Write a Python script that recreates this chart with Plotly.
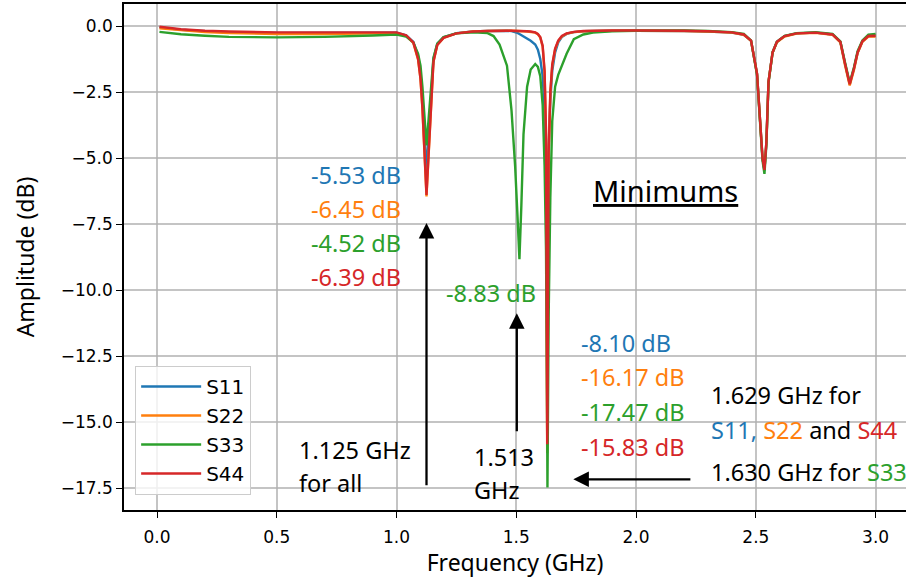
import plotly.graph_objects as go

# ---------------- data ----------------
freq = [0.01, 0.05, 0.1, 0.2, 0.3, 0.5, 0.7, 0.9, 1.0, 1.04,
        1.07, 1.09, 1.10, 1.108, 1.116, 1.125, 1.134, 1.143, 1.154, 1.17,
        1.196, 1.25, 1.32, 1.38, 1.405, 1.43, 1.461, 1.48, 1.495, 1.505,
        1.513, 1.521, 1.53, 1.545, 1.56, 1.579, 1.59, 1.60, 1.61, 1.618,
        1.624, 1.629, 1.630, 1.635, 1.642, 1.65, 1.662, 1.675, 1.69, 1.71,
        1.74, 1.78, 1.82, 1.9, 2.0, 2.1, 2.2, 2.3, 2.4, 2.45,
        2.48, 2.505, 2.518, 2.528, 2.536, 2.544, 2.553, 2.57, 2.588, 2.62,
        2.67, 2.75, 2.82, 2.853, 2.873, 2.892, 2.91, 2.925, 2.945, 2.97,
        3.0]

s11 = [-0.05, -0.09, -0.14, -0.2, -0.23, -0.26, -0.26, -0.25, -0.25, -0.35,
       -0.6, -1.15, -1.8, -2.7, -4.0, -5.53, -4.1, -2.8, -1.25, -0.68,
       -0.43, -0.27, -0.21, -0.19, -0.18, -0.18, -0.18, -0.19, -0.22, -0.26,
       -0.3, -0.34, -0.4, -0.48, -0.56, -0.7, -0.9, -1.25, -1.9, -3.2,
       -5.5, -8.10, -7.9, -4.6, -2.8, -1.7, -1.0, -0.62, -0.42, -0.3,
       -0.23, -0.2, -0.19, -0.18, -0.18, -0.18, -0.19, -0.21, -0.25, -0.33,
       -0.55, -1.8, -3.6, -5.0, -5.48, -4.4, -2.1, -1.0, -0.6, -0.38,
       -0.28, -0.25, -0.32, -0.6, -1.45, -2.2, -1.6, -1.0, -0.58, -0.38,
       -0.38]

s22 = [-0.09, -0.12, -0.17, -0.23, -0.27, -0.3, -0.3, -0.28, -0.27, -0.37,
       -0.64, -1.28, -2.0, -3.15, -4.8, -6.45, -4.85, -3.2, -1.35, -0.72,
       -0.45, -0.28, -0.21, -0.19, -0.18, -0.18, -0.18, -0.18, -0.18, -0.18,
       -0.18, -0.19, -0.2, -0.21, -0.22, -0.25, -0.31, -0.44, -0.78, -1.75,
       -4.1, -16.17, -15.4, -4.9, -2.55, -1.5, -0.88, -0.57, -0.4, -0.29,
       -0.23, -0.2, -0.19, -0.18, -0.18, -0.18, -0.19, -0.21, -0.25, -0.33,
       -0.56, -1.8, -3.6, -5.0, -5.42, -4.4, -2.1, -1.0, -0.62, -0.4,
       -0.29, -0.26, -0.33, -0.62, -1.5, -2.25, -1.65, -1.02, -0.6, -0.4,
       -0.4]

s33 = [-0.22, -0.27, -0.31, -0.37, -0.41, -0.43, -0.41, -0.36, -0.32, -0.4,
       -0.62, -1.05, -1.5, -2.3, -3.4, -4.52, -3.5, -2.4, -1.2, -0.67,
       -0.42, -0.28, -0.24, -0.27, -0.38, -0.7, -1.5, -3.2, -5.3, -7.2,
       -8.83, -6.8, -4.1, -2.3, -1.65, -1.44, -1.55, -1.9, -3.0, -5.3,
       -8.5, -15.5, -17.47, -11.0, -6.5, -3.6, -2.3, -1.85, -1.5, -1.05,
       -0.5, -0.32, -0.25, -0.2, -0.18, -0.17, -0.17, -0.19, -0.23, -0.3,
       -0.55, -1.85, -3.7, -5.1, -5.6, -4.5, -2.15, -1.0, -0.6, -0.37,
       -0.27, -0.23, -0.3, -0.58, -1.4, -2.15, -1.55, -0.95, -0.55, -0.33,
       -0.3]

s44 = [-0.03, -0.07, -0.12, -0.18, -0.21, -0.24, -0.24, -0.23, -0.24, -0.35,
       -0.62, -1.25, -2.0, -3.1, -4.75, -6.39, -4.8, -3.2, -1.35, -0.72,
       -0.45, -0.28, -0.21, -0.19, -0.18, -0.18, -0.18, -0.18, -0.18, -0.18,
       -0.18, -0.18, -0.19, -0.2, -0.21, -0.24, -0.3, -0.42, -0.75, -1.7,
       -4.0, -15.83, -15.2, -4.8, -2.5, -1.45, -0.85, -0.55, -0.38, -0.28,
       -0.22, -0.19, -0.18, -0.17, -0.17, -0.17, -0.18, -0.2, -0.24, -0.32,
       -0.55, -1.8, -3.6, -5.0, -5.45, -4.4, -2.1, -1.0, -0.6, -0.38,
       -0.28, -0.25, -0.32, -0.6, -1.45, -2.2, -1.6, -1.0, -0.58, -0.38,
       -0.37]

series_names = ["S11", "S22", "S33", "S44"]
series_values = [s11, s22, s33, s44]
colors = ["#1f77b4", "#ff7f0e", "#2ca02c", "#d62728"]

x_ticks = [0.0, 0.5, 1.0, 1.5, 2.0, 2.5, 3.0]
y_ticks = [0.0, -2.5, -5.0, -7.5, -10.0, -12.5, -15.0, -17.5]

# ---------------- figure ----------------
fig = go.Figure()
for name, vals, col in zip(series_names, series_values, colors):
    fig.add_trace(go.Scatter(x=freq, y=vals, mode="lines", name=name,
                             legendgroup=name,
                             line=dict(color=col, width=2.4)))

AF = "Noto Sans"
FS = 23.5
BLUE, ORANGE, GREEN, RED = colors


def txt(x, y, text, color="black", xanchor="left", size=FS):
    fig.add_annotation(x=x, y=y, xref="x", yref="y", text=text, showarrow=False,
                       xanchor=xanchor, yanchor="middle",
                       font=dict(family=AF, size=size, color=color))


# left group (1.125 GHz)
txt(1.027, -5.64, "-5.53 dB", BLUE, "right")
txt(1.027, -6.93, "-6.45 dB", ORANGE, "right")
txt(1.027, -8.21, "-4.52 dB", GREEN, "right")
txt(1.027, -9.50, "-6.39 dB", RED, "right")
txt(0.585, -16.05, "1.125 GHz")
txt(0.585, -17.30, "for all")

# 1.513 GHz
txt(1.395, -10.11, "-8.83 dB", GREEN, "center")
txt(1.317, -16.31, "1.513")
txt(1.317, -17.56, "GHz")

# Minimums
txt(2.121, -6.21, "<u>Minimums</u>", "black", "center", 29)

# right group
txt(1.762, -12.0, "-8.10 dB", BLUE)
txt(1.762, -13.29, "-16.17 dB", ORANGE)
txt(1.762, -14.61, "-17.47 dB", GREEN)
txt(1.762, -15.93, "-15.83 dB", RED)
txt(2.305, -13.97, "1.629 GHz for")
txt(2.305, -15.29, f"<span style='color:{BLUE}'>S11,</span> <span style='color:{ORANGE}'>S22</span> and <span style='color:{RED}'>S44</span>")
txt(2.305, -16.88, f"1.630 GHz for <span style='color:{GREEN}'>S33</span>")


def arrow(x0, y0, x1, y1):
    fig.add_annotation(x=x1, y=y1, ax=x0, ay=y0, xref="x", yref="y",
                       axref="x", ayref="y", text="", showarrow=True,
                       arrowhead=2, arrowsize=1.35, arrowwidth=2.3,
                       arrowcolor="black", standoff=0, startstandoff=0)


arrow(1.125, -17.44, 1.125, -7.46)
arrow(1.502, -15.40, 1.502, -10.87)
arrow(2.233, -17.16, 1.738, -17.16)

tickfont = dict(family="DejaVu Sans", size=17, color="black")
titlefont = dict(family="Noto Sans", size=23, color="black")
grid = "rgba(176,176,176,0.75)"

fig.update_layout(
    width=906, height=578,
    margin=dict(l=124, r=0, t=4, b=68),
    paper_bgcolor="white", plot_bgcolor="white",
    showlegend=True,
    legend=dict(x=0.014, y=0.285, xanchor="left", yanchor="top",
                bgcolor="rgba(255,255,255,0.8)", bordercolor="#cccccc",
                borderwidth=1.2, font=dict(family="DejaVu Sans", size=20, color="black"),
                tracegroupgap=0, itemwidth=60),
    xaxis=dict(range=[-0.138, 3.127], tickvals=x_ticks, tickformat=".1f",
               showgrid=True, gridcolor=grid, gridwidth=1.5, zeroline=False,
               showline=True, linecolor="black", linewidth=1.5, mirror=True,
               ticks="outside", ticklen=6, tickwidth=1.3, tickcolor="black",
               tickfont=tickfont, ticklabelstandoff=5,
               title=dict(text="Frequency (GHz)", font=titlefont, standoff=10)),
    yaxis=dict(range=[-18.32, 0.833], tickvals=y_ticks, tickformat=".1f",
               showgrid=True, gridcolor=grid, gridwidth=1.5, zeroline=False,
               showline=True, linecolor="black", linewidth=1.5, mirror=False,
               ticks="outside", ticklen=6, tickwidth=1.3, tickcolor="black",
               tickfont=tickfont,
               title=dict(text="Amplitude (dB)", font=titlefont, standoff=20)),
)

fig.write_html("out.html")
